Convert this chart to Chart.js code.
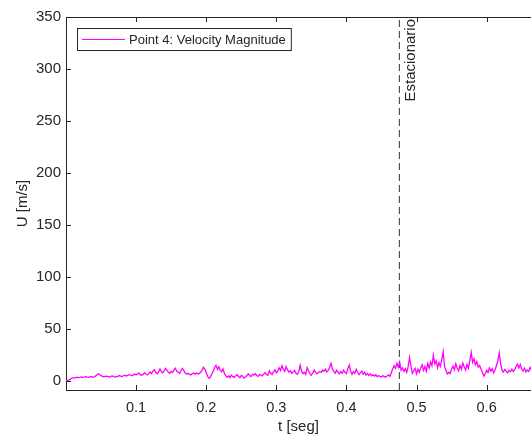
<!DOCTYPE html>
<html>
<head>
<meta charset="utf-8">
<script src="https://cdn.jsdelivr.net/npm/chart.js@4"></script>
<style>
  html, body { margin: 0; padding: 0; background: #fff; }
  canvas { display: block; }
</style>
</head>
<body>
<canvas id="grafico" width="531" height="441"></canvas>
<script>
// Datos
var serieNombre = 'Point 4: Velocity Magnitude';
var dt = 0.002;       // paso de tiempo de la serie
var velocidad = [
  0.2, 0.5, 0.8, 1.5, 2.6, 3.1, 2.8, 3.3, 3.6, 3.2,
  3.5, 3.9, 3.4, 3.8, 4.2, 3.7, 3.4, 3.9, 4.1, 3.6,
  4.0, 4.6, 5.8, 6.9, 6.2, 5.1, 4.4, 3.9, 4.3, 4.6,
  4.1, 3.8, 4.4, 4.9, 4.2, 3.7, 4.1, 4.5, 5.2, 4.6,
  4.3, 5.0, 5.6, 4.8, 5.3, 6.2, 5.5, 4.9, 5.8, 6.6,
  5.9, 6.8, 7.6, 6.1, 5.4, 6.3, 7.9, 6.7, 5.8, 7.2,
  8.6, 7.1, 9.4, 10.8, 8.2, 6.9, 8.5, 11.6, 9.1, 7.8,
  9.6, 12.1, 10.4, 8.3, 7.4, 9.2, 8.1, 10.7, 12.3, 9.4,
  8.6, 7.2, 9.8, 12.0, 10.1, 7.6, 6.4, 7.3, 6.5, 5.8,
  6.9, 7.6, 6.3, 7.8, 6.6, 7.1, 8.4, 10.2, 13.1, 11.4,
  8.2, 4.5, 2.6, 3.8, 6.7, 9.6, 12.8, 15.1, 11.2, 13.6,
  10.4, 8.8, 11.5, 7.2, 5.1, 3.6, 4.8, 3.2, 5.6, 4.1,
  3.4, 4.9, 6.2, 4.3, 3.1, 5.4, 4.6, 2.8, 3.9, 5.2,
  6.8, 5.1, 4.2, 6.4, 5.6, 7.1, 5.3, 4.4, 6.2, 5.7,
  4.9, 6.6, 8.1, 6.2, 5.4, 9.8, 7.6, 6.1, 8.9, 10.6,
  7.8, 9.4, 12.7, 10.1, 14.6, 11.3, 9.2, 13.8, 10.6, 8.4,
  9.9, 7.3, 8.6, 10.2, 7.5, 6.4, 8.8, 15.2, 9.6, 7.1,
  8.4, 6.2, 12.9, 9.8, 6.7, 5.4, 7.6, 10.5, 8.1, 6.9,
  7.8, 9.1, 8.2, 10.6, 9.3, 11.4, 8.7, 10.1, 13.2, 16.8,
  11.6, 9.2, 7.4, 10.3, 8.6, 6.8, 9.1, 7.2, 10.4, 8.3,
  7.1, 11.8, 15.2, 9.6, 6.4, 8.9, 7.3, 11.2, 8.4, 6.1,
  7.8, 9.6, 6.5, 8.4, 5.7, 7.2, 5.3, 6.8, 4.9, 5.8,
  4.6, 5.9, 4.2, 5.1, 4.4, 3.8, 5.2, 4.1, 3.5, 4.7,
  5.9, 4.3, 7.8, 11.4, 14.6, 12.1, 16.9, 13.2, 18.1, 10.4,
  12.6, 9.1, 11.8, 8.2, 13.5, 22.4, 14.6, 7.3, 9.8, 12.1,
  6.9, 11.4, 8.3, 12.8, 15.6, 10.2, 13.9, 9.4, 16.8, 12.5,
  18.2, 14.6, 24.8, 16.3, 19.5, 12.8, 17.6, 14.1, 20.3, 28.1,
  13.6, 10.2, 6.8, 8.4, 7.1, 11.6, 14.3, 10.8, 16.5, 12.4,
  9.8, 14.9, 11.3, 17.2, 13.6, 10.5, 15.8, 12.2, 19.4, 27.6,
  17.8, 21.3, 15.4, 18.6, 13.2, 14.9, 11.6, 8.3, 4.6, 6.9,
  10.4, 8.1, 12.6, 9.3, 11.8, 7.9, 10.6, 14.8, 19.2, 26.8,
  16.4, 10.2, 8.6, 11.1, 9.4, 7.8, 10.3, 8.9, 11.5, 9.1,
  10.8, 13.9, 16.2, 12.5, 15.8, 11.2, 9.6, 12.4, 8.7, 10.5,
  9.2, 13.1, 10.6
];
var tEstacionario = 0.4755;
var textoEstacionario = 'Estacionario';
var xMin = 0, xMax = 0.6633, xPaso = 0.1;
var yMin = -8.7, yMax = 350, yPaso = 50;
var tituloX = 't [seg]';
var tituloY = 'U [m/s]';

var puntos = velocidad.map(function (v, i) { return { x: i * dt, y: v }; });
var lineaEstacionario = [{ x: tEstacionario, y: yMin }, { x: tEstacionario, y: yMax }];

var gris = '#262626';
var magenta = '#ff00ff';
var fuente = 'Liberation Sans, Arial, Helvetica, sans-serif';

// Marco, marcas hacia dentro, texto y leyenda estilo MATLAB
var marcoMatlab = {
  id: 'marcoMatlab',
  afterDraw: function (chart) {
    var ctx = chart.ctx;
    var a = chart.chartArea;
    var sx = chart.scales.x, sy = chart.scales.y;
    ctx.save();
    ctx.strokeStyle = gris;
    ctx.lineWidth = 1;
    ctx.beginPath();
    ctx.moveTo(a.left, a.top + 0.5);
    ctx.lineTo(a.right, a.top + 0.5);
    ctx.stroke();
    // marcas x (abajo y arriba)
    sx.ticks.forEach(function (t) {
      var px = Math.round(sx.getPixelForValue(t.value)) + 0.5;
      ctx.beginPath();
      ctx.moveTo(px, a.bottom); ctx.lineTo(px, a.bottom - 5);
      ctx.moveTo(px, a.top); ctx.lineTo(px, a.top + 5);
      ctx.stroke();
    });
    // marcas y (izquierda)
    sy.ticks.forEach(function (t) {
      var py = Math.round(sy.getPixelForValue(t.value)) + 0.5;
      ctx.beginPath();
      ctx.moveTo(a.left, py); ctx.lineTo(a.left + 5, py);
      ctx.stroke();
    });
    // texto Estacionario
    ctx.fillStyle = gris;
    ctx.font = '15px ' + fuente;
    ctx.translate(sx.getPixelForValue(tEstacionario) + 12, sy.getPixelForValue(yMax) + 2);
    ctx.rotate(-Math.PI / 2);
    ctx.textAlign = 'right';
    ctx.textBaseline = 'middle';
    ctx.fillText(textoEstacionario, 0, 0);
    ctx.restore();

    // leyenda
    ctx.save();
    ctx.font = '13px ' + fuente;
    var lx = a.left + 11, ly = a.top + 11;
    var ancho = 52 + ctx.measureText(serieNombre).width + 5;
    ctx.fillStyle = '#fff';
    ctx.fillRect(lx, ly, ancho, 22);
    ctx.strokeStyle = gris;
    ctx.lineWidth = 1;
    ctx.strokeRect(lx + 0.5, ly + 0.5, ancho, 22);
    ctx.fillStyle = magenta;
    ctx.fillRect(lx + 5, ly + 11, 43, 1);
    ctx.fillStyle = gris;
    ctx.textBaseline = 'middle';
    ctx.fillText(serieNombre, lx + 52, ly + 12);
    ctx.restore();
  }
};

var ctx = document.getElementById('grafico').getContext('2d');
var chart = new Chart(ctx, {
  type: 'line',
  data: {
    datasets: [
      {
        label: serieNombre,
        data: puntos,
        borderColor: magenta,
        borderWidth: 1.3,
        pointRadius: 0,
        tension: 0
      },
      {
        label: textoEstacionario,
        data: lineaEstacionario,
        borderColor: '#333333',
        borderWidth: 1,
        borderDash: [7, 4],
        pointRadius: 0
      }
    ]
  },
  options: {
    responsive: false,
    animation: false,
    devicePixelRatio: 1,
    layout: { padding: { top: 17, right: 0, left: 0, bottom: 0 } },
    plugins: {
      legend: { display: false },
      tooltip: { enabled: false }
    },
    scales: {
      x: {
        type: 'linear',
        min: xMin,
        max: xMax,
        grid: { display: false, drawTicks: false },
        border: { color: gris, width: 1 },
        ticks: {
          stepSize: xPaso,
          includeBounds: false,
          color: gris,
          font: { family: fuente, size: 14.5 },
          padding: 9,
          maxRotation: 0,
          callback: function (v) { return v === 0 ? null : v.toFixed(1); }
        },
        title: {
          display: true, text: tituloX, color: gris,
          font: { family: fuente, size: 15 },
          padding: { top: 0, bottom: 5 }
        },
        afterFit: function (s) { s.height = 51; }
      },
      y: {
        min: yMin,
        max: yMax,
        grid: { display: false, drawTicks: false },
        border: { color: gris, width: 1 },
        ticks: {
          stepSize: yPaso,
          includeBounds: false,
          color: gris,
          font: { family: fuente, size: 15 },
          padding: 5
        },
        title: {
          display: true, text: tituloY, color: gris,
          font: { family: fuente, size: 15 },
          padding: { top: 14, bottom: 0 }
        },
        afterFit: function (s) { s.width = 66; }
      }
    }
  },
  plugins: [marcoMatlab]
});
</script>
</body>
</html>
